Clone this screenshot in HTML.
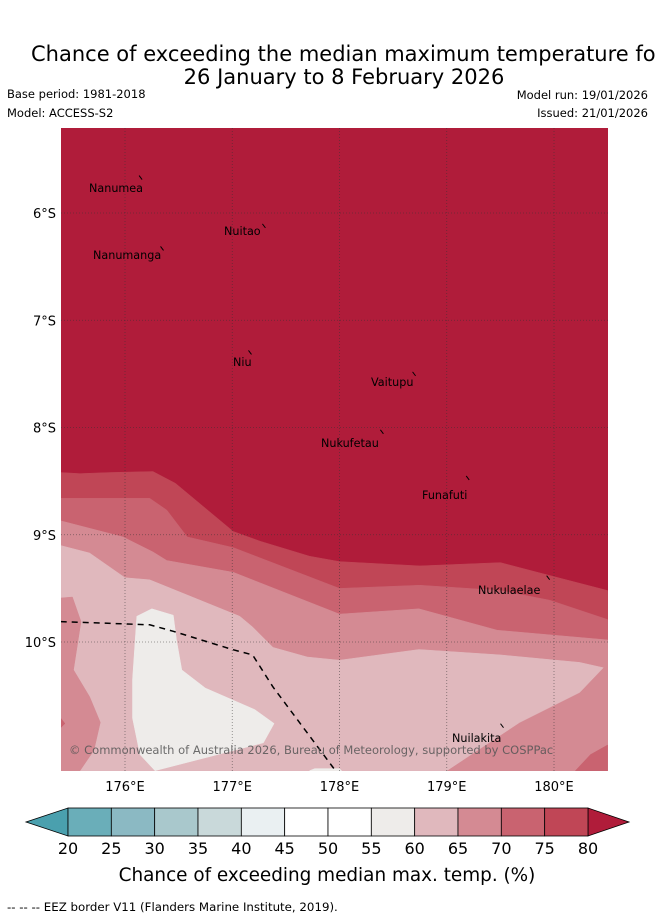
<!DOCTYPE html>
<html><head><meta charset="utf-8"><style>
html,body{margin:0;padding:0;background:#fff;}
svg{display:block;font-family:"DejaVu Sans","Liberation Sans",sans-serif;}
</style></head><body>
<svg id="s" width="655" height="919" viewBox="0 0 655 919">
<text x="31" y="61" font-size="21" fill="#000">Chance of exceeding the median maximum temperature for</text>
<text x="344" y="84" font-size="21" text-anchor="middle" fill="#000">26 January to 8 February 2026</text>
<text x="7" y="98" font-size="11.5">Base period: 1981-2018</text>
<text x="7" y="117" font-size="11.5">Model: ACCESS-S2</text>
<text x="648" y="99" font-size="11.5" text-anchor="end">Model run: 19/01/2026</text>
<text x="648" y="117" font-size="11.5" text-anchor="end">Issued: 21/01/2026</text>
<defs><clipPath id="mc"><rect x="61" y="128" width="547" height="643"/></clipPath></defs>
<g id="map" clip-path="url(#mc)"></g>
<g id="axes"></g>
<g id="cbar"></g>
<text x="327" y="881" font-size="18.4" text-anchor="middle">Chance of exceeding median max. temp. (%)</text>
<text x="7" y="911" font-size="11.8">--  --  -- EEZ border V11 (Flanders Marine Institute, 2019).</text>
</svg>
<script>
// ---- data ----
const lonTicks=[176,177,178,179,180];
const latTicks=[6,7,8,9,10];
const cbLevels=[20,25,30,35,40,45,50,55,60,65,70,75,80];
const cbColors=["#6aaeb9","#8bb9c3","#a9c8cc","#c9d9da","#eaf0f2","#ffffff","#ffffff","#eeecea","#e0b8bd","#d48a93","#c96370","#c04656"];
const c80=[[175.40,8.42],[175.58,8.43],[175.86,8.42],[176.26,8.41],[176.47,8.52],[177.01,8.97],[177.26,9.06],[177.72,9.20],[178.00,9.25],[178.75,9.29],[179.50,9.26],[179.96,9.38],[180.50,9.52]];
const c75=[[175.40,8.66],[176.23,8.66],[176.39,8.77],[176.58,9.02],[177.01,9.12],[178.00,9.50],[178.75,9.47],[179.50,9.52],[179.96,9.61],[180.50,9.79]];
const c70=[[175.40,8.87],[175.98,9.02],[176.26,9.16],[176.39,9.24],[177.01,9.35],[178.00,9.74],[178.74,9.69],[179.47,9.89],[180.50,9.98]];
const c65=[[175.40,9.10],[175.67,9.17],[176.00,9.40],[176.23,9.42],[177.07,9.76],[177.19,9.86],[177.38,10.05],[177.70,10.14],[178.00,10.17],[178.74,10.07],[179.50,10.12],[180.24,10.19],[180.46,10.24],[180.24,10.47],[179.68,10.75],[179.00,11.20],[175.40,11.20]];
const blob65=[[175.40,9.59],[175.51,9.58],[175.59,9.81],[175.52,10.26],[175.67,10.51],[175.77,10.75],[175.71,11.01],[175.58,11.20],[175.40,11.20]];
const notch70=[[175.40,10.71],[175.44,10.76],[175.40,10.80]];
const corner70=[[180.50,10.96],[180.34,11.05],[180.20,11.20],[180.50,11.20]];
const white55=[[176.11,9.76],[176.25,9.69],[176.45,9.75],[176.48,9.98],[176.53,10.26],[176.75,10.43],[177.21,10.63],[177.39,10.76],[177.29,10.94],[176.28,11.20],[176.14,11.05],[176.07,10.71],[176.07,10.35]];
const white55b=[[177.72,11.20],[177.77,11.18],[178.00,11.18],[178.02,11.20]];
const eez=[[175.40,9.81],[176.23,9.84],[176.45,9.90],[177.00,10.07],[177.19,10.12],[177.38,10.42],[177.94,11.17],[177.97,11.21]];
const islandNames=["Nanumea","Nuitao","Nanumanga","Niu","Vaitupu","Nukufetau","Funafuti","Nukulaelae","Nuilakita"];
const islandLon=[176.15,177.30,176.35,177.17,178.70,178.40,179.20,179.95,179.52];
const islandLat=[5.67,6.12,6.33,7.30,7.50,8.04,8.47,9.40,10.78];
const labelX=[89,224,93,233,371,321,422,478,452];
const labelY=[192,235,259,366,386,447,499,594,742];
// ---- scales ----
const X=lon=>125+(lon-176)*107.25;
const Y=lat=>213+(lat-6)*107.25;
const NS="http://www.w3.org/2000/svg";
const map=document.getElementById('map');
function mk(tag,attrs,parent){const e=document.createElementNS(NS,tag);for(const k in attrs)e.setAttribute(k,attrs[k]);parent.appendChild(e);return e;}
function pts(a){return a.map(p=>X(p[0]).toFixed(1)+","+Y(p[1]).toFixed(1)).join(" ");}
const bl=[175.40,11.25],br=[180.55,11.25];
let bg=mk('rect',{x:61,y:128,width:547,height:643,fill:"#b01c3a"},map);


function band(arr,col,name,close){
  const a=close?arr.concat([br,bl]):arr;
  const p=mk('polygon',{points:pts(a),fill:col,stroke:col,"stroke-width":0.5},map);
  
  
}
band(c80,"#c04656","band-75-80",true);
band(c75,"#c96370","band-70-75",true);
band(c70,"#d48a93","band-65-70",true);
band(c65,"#e0b8bd","band-60-65",false);
band(blob65,"#d48a93","band-65-70-west",false);
band(notch70,"#c96370","band-70-75-notch",false);
band(corner70,"#c96370","band-70-75-corner",false);
band(white55,"#eeecea","band-55-60",false);
band(white55b,"#eeecea","band-55-60-south",false);
// gridlines
lonTicks.forEach(l=>{const g=mk('line',{x1:X(l),x2:X(l),y1:128,y2:771,stroke:"#333","stroke-width":0.8,"stroke-dasharray":"1,2",opacity:0.6},map);

});
latTicks.forEach(l=>{const g=mk('line',{x1:61,x2:608,y1:Y(l),y2:Y(l),stroke:"#333","stroke-width":0.8,"stroke-dasharray":"1,2",opacity:0.6},map);

});
// eez
const ez=mk('polyline',{points:pts(eez),fill:"none",stroke:"#000","stroke-width":1.5,"stroke-dasharray":"6,5"},map);


// islands
islandNames.forEach((n,i)=>{
  const m=mk('line',{x1:X(islandLon[i])-2,y1:Y(islandLat[i])-2,x2:X(islandLon[i])+1,y2:Y(islandLat[i])+2,stroke:"#000","stroke-width":1},map);
  
  
  const t=mk('text',{x:labelX[i],y:labelY[i],"font-size":11.2,fill:"#000"},map);
  t.textContent=n;
  
  
});
const cp=mk('text',{x:69,y:754,"font-size":11.5,fill:"#555",opacity:0.85},map);
cp.textContent="© Commonwealth of Australia 2026, Bureau of Meteorology, supported by COSPPac";


// axes labels
const ax=document.getElementById('axes');
lonTicks.forEach(l=>{const t=mk('text',{x:X(l),y:791,"font-size":13,"text-anchor":"middle"},ax);t.textContent=l+"°E";

});
latTicks.forEach(l=>{const t=mk('text',{x:56,y:Y(l)+5,"font-size":13,"text-anchor":"end"},ax);t.textContent=l+"°S";

});
// colorbar
const cb=document.getElementById('cbar');
const cx0=68,cx1=588,cy0=808,cy1=836;
const cw=(cx1-cx0)/(cbLevels.length-1);
const lt=mk('polygon',{points:`${cx0},${cy0} ${cx0},${cy1} 26,822`,fill:"#4aa0ae",stroke:"#000","stroke-width":0.8},cb);


const rt=mk('polygon',{points:`${cx1},${cy0} ${cx1},${cy1} 629,822`,fill:"#b01c3a",stroke:"#000","stroke-width":0.8},cb);


cbColors.forEach((c,i)=>{const r=mk('rect',{x:cx0+i*cw,y:cy0,width:cw,height:cy1-cy0,fill:c,stroke:"#000","stroke-width":0.8},cb);

});
cbLevels.forEach((v,i)=>{const t=mk('text',{x:cx0+i*cw,y:854,"font-size":16,"text-anchor":"middle"},cb);t.textContent=v;

});
</script>
</body></html>
